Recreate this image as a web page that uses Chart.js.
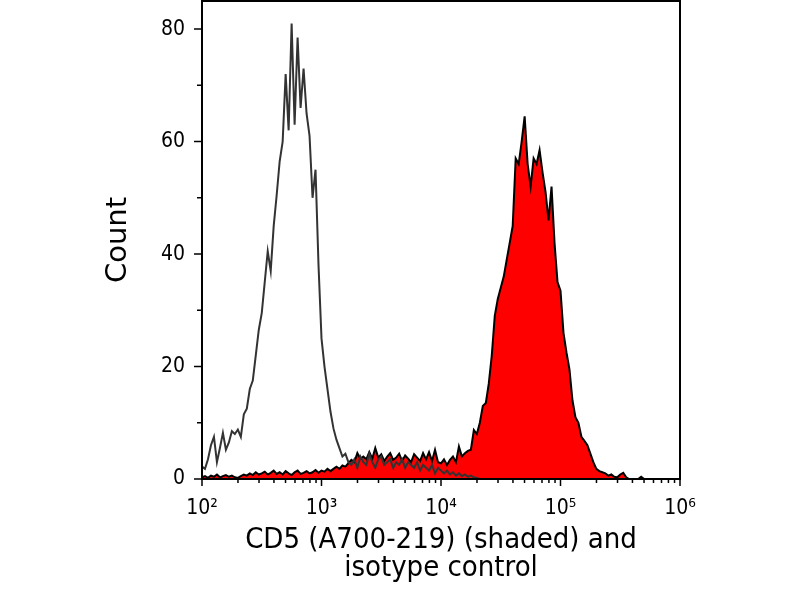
<!DOCTYPE html>
<html>
<head>
<meta charset="utf-8">
<title>CD5 (A700-219) histogram</title>
<script src="https://cdn.jsdelivr.net/npm/chart.js@4.4.1/dist/chart.umd.min.js"></script>
<style>
  html, body { margin: 0; padding: 0; background: #fff; }
  #wrap { width: 800px; height: 600px; }
</style>
</head>
<body>
<div id="wrap"><canvas id="chart" width="800" height="600"></canvas></div>
<script>
// histogram channels, 40 per decade starting at 10^2
const channelsPerDecade = 40
const firstDecade = 2

// isotype control (open, dark grey line)
const isotypeCounts = [
  2.2, 1.8, 3.5, 6.0, 7.5, 3.0, 5.5, 8.2, 5.2, 6.5,
  8.5, 8.0, 8.8, 7.5, 11.5, 12.5, 16.0, 17.5, 22.0, 26.5,
  29.5, 35.0, 40.5, 37.0, 45.0, 50.5, 56.5, 60.0, 72.0, 62.0,
  81.0, 63.0, 78.5, 66.0, 73.0, 65.0, 61.0, 50.0, 55.0, 38.0,
  25.0, 20.0, 16.0, 12.0, 9.0, 7.0, 5.5, 4.0, 4.5, 3.0,
  2.5, 3.5, 2.0, 4.0, 3.0, 2.5, 4.5, 3.0, 2.0, 3.5,
  4.0, 2.5, 3.0, 3.5, 2.0, 3.0, 2.5, 3.5, 2.0, 3.0,
  2.5, 2.0, 3.0, 1.5, 2.5, 2.0, 1.5, 2.5, 1.0, 2.0,
  1.5, 1.0, 1.5, 0.8, 1.2, 0.6, 1.0, 0.5, 0.8, 0.4,
  0.6, 0.3, 0.2, 0, 0, 0, 0, 0, 0, 0,
  0, 0, 0, 0, 0, 0, 0, 0, 0, 0,
  0, 0, 0, 0, 0, 0, 0, 0, 0, 0,
  0, 0, 0, 0, 0, 0, 0, 0, 0, 0,
  0, 0, 0, 0, 0, 0, 0, 0, 0, 0,
  0, 0, 0, 0, 0, 0, 0, 0, 0, 0,
  0, 0, 0, 0, 0, 0, 0, 0, 0, 0,
  0
]

// CD5 stained (red shaded, black outline)
const cd5Counts = [
  0.3, 0.5, 0.2, 0.6, 0.4, 0.8, 0.3, 0.5, 0.7, 0.4,
  0.6, 0.3, 0.2, 0.5, 0.8, 0.6, 1.0, 0.7, 1.2, 0.8,
  1.0, 1.3, 0.8, 1.1, 1.5, 0.9, 1.2, 0.8, 1.4, 1.0,
  0.7, 1.2, 1.5, 0.9, 1.1, 1.4, 1.0, 1.2, 1.6, 1.1,
  1.5, 1.3, 1.8, 1.4, 1.8, 2.2, 1.8, 2.4, 2.2, 2.8,
  3.4, 3.0, 4.6, 3.6, 4.0, 3.5, 4.8, 3.6, 5.5, 3.8,
  4.4, 3.2, 4.0, 4.6, 3.4, 3.8, 4.5, 3.2, 4.2, 3.6,
  3.0, 4.4, 3.8, 3.2, 4.6, 3.5, 4.8, 3.2, 5.2, 3.0,
  2.8, 3.5, 2.5, 3.4, 4.0, 3.0, 5.8, 4.0, 4.6, 5.0,
  5.2, 8.7, 8.0, 10.0, 13.0, 13.5, 17.0, 22.0, 29.0, 32.0,
  34.0, 36.0, 39.0, 42.0, 45.0, 57.0, 56.0, 60.0, 64.5, 56.0,
  52.0, 57.0, 56.0, 58.5, 54.5, 51.0, 46.0, 52.0, 42.0, 35.0,
  33.5, 26.0, 22.5, 19.5, 14.0, 11.0, 10.0, 7.5, 6.8, 6.0,
  4.5, 3.0, 1.8, 1.4, 1.2, 1.0, 0.6, 0.8, 0.4, 0.3,
  0.8, 1.1, 0.3, 0, 0, 0, 0, 0.4, 0, 0,
  0, 0, 0, 0, 0, 0, 0, 0, 0, 0,
  0
]

const xTickValues = [1e2, 1e3, 1e4, 1e5, 1e6]
const xTickLabels = ['10²', '10³', '10⁴', '10⁵', '10⁶']
const yTickValues = [0, 20, 40, 60, 80]
const yMinorTicks = [10, 30, 50, 70]

function toPoints(counts){
  return counts.map((c, i) => ({ x: Math.pow(10, firstDecade + i / channelsPerDecade), y: c }))
}

// box round the plot plus major / minor tick marks
const frame = {
  id: 'frame',
  afterDraw(chart){
    const { ctx, chartArea: a, scales: { x, y } } = chart
    ctx.save()
    ctx.strokeStyle = '#000'
    ctx.lineWidth = 2
    ctx.strokeRect(a.left, a.top, a.right - a.left, a.bottom - a.top)

    ctx.lineWidth = 1.5
    ctx.beginPath()
    xTickValues.forEach(v => {
      const px = x.getPixelForValue(v)
      ctx.moveTo(px, a.bottom)
      ctx.lineTo(px, a.bottom + 7)
    })
    for (let d = 0; d < xTickValues.length - 1; d++) {
      for (let k = 2; k <= 9; k++) {
        const px = x.getPixelForValue(xTickValues[d] * k)
        ctx.moveTo(px, a.bottom)
        ctx.lineTo(px, a.bottom + 4)
      }
    }
    yTickValues.forEach(v => {
      const py = y.getPixelForValue(v)
      ctx.moveTo(a.left, py)
      ctx.lineTo(a.left - 8, py)
    })
    yMinorTicks.forEach(v => {
      const py = y.getPixelForValue(v)
      ctx.moveTo(a.left, py)
      ctx.lineTo(a.left - 5, py)
    })
    ctx.stroke()
    ctx.restore()
  }
}

const condensed = "'DejaVu Sans Condensed', 'DejaVu Sans', sans-serif"

const ctx = document.getElementById('chart').getContext('2d')
const chart = new Chart(ctx, {
  type: 'line',
  data: {
    datasets: [
      {
        label: 'isotype control',
        data: toPoints(isotypeCounts),
        borderColor: '#333333',
        borderWidth: 2,
        fill: false,
        pointRadius: 0,
        tension: 0
      },
      {
        label: 'CD5 (A700-219)',
        data: toPoints(cd5Counts),
        borderColor: '#000000',
        backgroundColor: '#ff0000',
        borderWidth: 2,
        fill: 'origin',
        pointRadius: 0,
        tension: 0
      }
    ]
  },
  options: {
    responsive: false,
    animation: false,
    layout: { padding: { left: 0, right: 120, top: 1, bottom: 0 } },
    plugins: {
      legend: { display: false },
      tooltip: { enabled: false }
    },
    scales: {
      x: {
        type: 'logarithmic',
        min: 1e2,
        max: 1e6,
        grid: { display: false, drawTicks: false },
        border: { display: false },
        afterBuildTicks: s => { s.ticks = xTickValues.map(v => ({ value: v, major: true })) },
        afterFit: s => { s.height = 121; s.paddingLeft = 0; s.paddingRight = 0 },
        ticks: {
          autoSkip: false,
          maxRotation: 0,
          padding: 17,
          color: '#000',
          font: { family: condensed, size: 21 },
          callback: v => xTickLabels[xTickValues.indexOf(v)]
        },
        title: {
          display: true,
          text: ['CD5 (A700-219) (shaded) and', 'isotype control'],
          color: '#000',
          font: { family: condensed, size: 29, lineHeight: 0.955 },
          padding: { top: 0, bottom: 18 }
        }
      },
      y: {
        min: 0,
        max: 85,
        grid: { display: false, drawTicks: false },
        border: { display: false },
        afterBuildTicks: s => { s.ticks = yTickValues.map(v => ({ value: v })) },
        afterFit: s => { s.width = 202; s.paddingTop = 0; s.paddingBottom = 0 },
        ticks: {
          padding: 17,
          color: '#000',
          font: { family: condensed, size: 21 }
        },
        title: {
          display: true,
          text: 'Count',
          color: '#000',
          font: { family: "'DejaVu Sans', sans-serif", size: 29, lineHeight: 1.2 },
          padding: { top: 101, bottom: 0 }
        }
      }
    }
  },
  plugins: [frame]
})
</script>
</body>
</html>
